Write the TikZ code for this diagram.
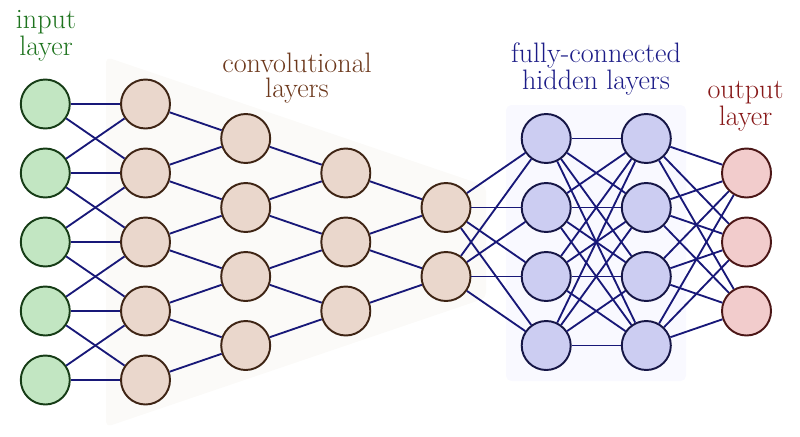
\documentclass[tikz,border=0pt]{standalone}
\definecolor{edgecol}{RGB}{24,24,120}
\definecolor{infill}{RGB}{194,230,194}
\definecolor{indraw}{RGB}{22,60,22}
\definecolor{cvfill}{RGB}{234,215,204}
\definecolor{cvdraw}{RGB}{62,36,20}
\definecolor{hdfill}{RGB}{204,205,242}
\definecolor{hddraw}{RGB}{22,22,70}
\definecolor{otfill}{RGB}{242,204,204}
\definecolor{otdraw}{RGB}{75,22,22}
\definecolor{convbg}{RGB}{251,250,248}
\definecolor{fcbg}{RGB}{249,249,255}
\definecolor{ingreen}{RGB}{30,115,30}
\definecolor{cvbrown}{RGB}{108,56,28}
\definecolor{fcblue}{RGB}{28,28,135}
\definecolor{otred}{RGB}{135,24,24}
\begin{document}
\begin{tikzpicture}[x=0.02cm,y=-0.02cm,
  neuron/.style={circle,minimum size=0.98cm,inner sep=0pt,line width=1.1pt},
  nin/.style={neuron,fill=infill,draw=indraw},
  ncv/.style={neuron,fill=cvfill,draw=cvdraw},
  nhd/.style={neuron,fill=hdfill,draw=hddraw},
  nout/.style={neuron,fill=otfill,draw=otdraw},
  connect/.style={draw=edgecol,line width=1.05pt},
  lbl/.style={align=center,anchor=base,inner sep=0pt,font=\fontsize{16}{14.2}\selectfont}]
\useasboundingbox (0,0) rectangle (800,436);
% backgrounds
\fill[convbg,rounded corners=3pt] (106,57) -- (486,186) -- (486,298) -- (106,427) -- cycle;
\fill[fcbg,rounded corners=3pt] (506,105) rectangle (686,381);
% labels (base = baseline of the last line)
\node[lbl,text=ingreen] (lin) at (46,55) {input\\layer};
\node[lbl,text=cvbrown] (lcv) at (297,97) {convolutional\\layers};
\node[lbl,text=fcblue] (lfc) at (596,89) {fully-connected\\hidden layers};
\node[lbl,text=otred] (lout) at (745.5,125) {output\\layer};
% neurons
\foreach \i in {1,...,5} \node[nin] (in\i) at (45.3,{242+(\i-3)*69}) {};
\foreach \i in {1,...,5} \node[ncv] (ca\i) at (145.5,{242+(\i-3)*69}) {};
\foreach \i in {1,...,4} \node[ncv] (cb\i) at (245.7,{242+(\i-2.5)*69}) {};
\foreach \i in {1,...,3} \node[ncv] (cc\i) at (345.8,{242+(\i-2)*69}) {};
\foreach \i in {1,...,2} \node[ncv] (cd\i) at (446,{242+(\i-1.5)*69}) {};
\foreach \i in {1,...,4} \node[nhd] (ha\i) at (546.2,{242+(\i-2.5)*69}) {};
\foreach \i in {1,...,4} \node[nhd] (hb\i) at (646.3,{242+(\i-2.5)*69}) {};
\foreach \i in {1,...,3} \node[nout] (out\i) at (746.5,{242+(\i-2)*69}) {};
% connections
\foreach \i/\j in {1/1,1/2,2/1,2/2,2/3,3/2,3/3,3/4,4/3,4/4,4/5,5/4,5/5}
  \draw[connect] (in\i) -- (ca\j);
\foreach \i/\j in {1/1,2/1,2/2,3/2,3/3,4/3,4/4,5/4}
  \draw[connect] (ca\i) -- (cb\j);
\foreach \i/\j in {1/1,2/1,2/2,3/2,3/3,4/3}
  \draw[connect] (cb\i) -- (cc\j);
\foreach \i/\j in {1/1,2/1,2/2,3/2}
  \draw[connect] (cc\i) -- (cd\j);
\foreach \i in {1,2} \foreach \j in {1,...,4}
  \draw[connect] (cd\i) -- (ha\j);
\foreach \i in {1,...,4} \foreach \j in {1,...,4}
  \draw[connect] (ha\i) -- (hb\j);
\foreach \i in {1,...,4} \foreach \j in {1,...,3}
  \draw[connect] (hb\i) -- (out\j);
\end{tikzpicture}
\end{document}
